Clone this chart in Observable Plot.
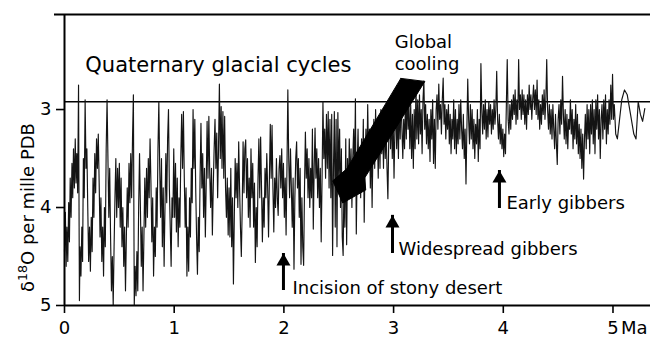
<!DOCTYPE html>
<html>
<head>
<meta charset="utf-8">
<script src="https://cdn.jsdelivr.net/npm/d3@7"></script>
<script src="https://cdn.jsdelivr.net/npm/@observablehq/plot@0.6"></script>
<style>
  html, body { margin: 0; padding: 0; background: white; }
  svg [aria-label$="tick"], svg g.tick line { stroke-width: 1.6; }
</style>
</head>
<body>
<div id="chart"></div>
<script>
// ---- Data: [age (Ma), delta18O (per mille PDB)] ----
const segQuaternaryA = [
[0.000,4.45],[0.008,4.05],[0.015,4.60],[0.022,4.20],[0.030,4.55],[0.038,3.95],[0.045,4.35],[0.052,3.70],[0.060,4.10],[0.068,3.55],
[0.075,3.90],[0.082,3.40],[0.090,3.80],[0.098,3.30],[0.105,3.75],[0.112,3.45],[0.120,3.85],[0.128,2.75],[0.136,4.95],[0.142,4.40],
[0.150,4.70],[0.158,4.20],[0.165,4.55],[0.172,3.50],[0.180,3.90],[0.188,2.90],[0.196,3.60],[0.204,3.40],[0.212,4.00],[0.220,4.55],
[0.228,4.20],[0.236,4.65],[0.244,4.10],[0.252,4.45],[0.260,3.70],[0.268,4.10],[0.276,3.45],[0.284,3.85],[0.292,3.30],[0.300,3.60],
[0.308,3.25],[0.316,3.75],[0.324,4.30],[0.332,3.90],[0.340,4.55],[0.348,4.20],[0.356,4.70],[0.364,4.00],[0.372,4.40],[0.380,3.40],
[0.388,2.90],[0.396,3.50],[0.404,4.10],[0.412,3.60],[0.420,4.30],[0.428,4.85],[0.436,4.50],[0.444,5.00],[0.452,4.40],[0.460,3.90],
[0.468,3.50],[0.476,4.10],[0.484,3.60],[0.492,4.00],[0.500,3.55],[0.508,4.20],[0.516,3.70],[0.524,4.40],[0.532,4.00],[0.540,4.60],
[0.548,4.20],[0.556,4.85],[0.564,4.30],[0.572,3.80],[0.580,4.20],[0.588,3.55],[0.596,3.95],[0.604,3.45],[0.612,3.90],[0.620,3.30],
[0.628,2.85],[0.636,5.00],[0.644,4.60],[0.652,4.90],[0.660,4.45],[0.668,4.85],[0.676,4.00],[0.684,3.45],[0.692,4.00],[0.700,4.60],
[0.708,4.20],[0.716,4.85],[0.724,4.30],[0.732,3.70],[0.740,4.20],[0.748,3.60],[0.756,4.10],[0.764,3.50],[0.772,3.90],[0.780,3.30],
[0.788,3.75],[0.796,4.35],[0.804,3.90],[0.812,4.70],[0.820,4.20],[0.828,4.50],[0.836,3.80],[0.844,4.20],[0.852,3.40],[0.860,2.92],
[0.868,3.60],[0.876,4.10],[0.884,3.50],[0.892,4.40],[0.900,3.80],[0.908,4.60],[0.916,4.00],[0.924,3.45],[0.932,3.95],[0.940,3.30],
[0.948,3.00],[0.956,3.80],[0.964,4.20],[0.972,4.60],[0.980,3.90],[0.988,4.10],[0.996,3.40]
];
const segQuaternaryB = [
[1.004,4.10],[1.012,3.55],[1.020,4.25],[1.028,3.70],[1.036,4.40],[1.044,3.90],[1.052,4.20],[1.060,3.50],[1.068,3.05],[1.076,3.60],
[1.084,3.02],[1.092,3.70],[1.100,4.20],[1.108,3.80],[1.116,4.70],[1.124,4.20],[1.132,4.65],[1.140,3.90],[1.148,4.30],[1.156,3.60],
[1.164,3.95],[1.172,3.00],[1.180,3.60],[1.188,3.10],[1.196,3.80],[1.204,4.30],[1.212,4.68],[1.220,4.10],[1.228,4.45],[1.236,3.70],
[1.244,3.14],[1.252,3.80],[1.260,3.45],[1.268,4.10],[1.276,3.60],[1.284,4.30],[1.292,3.75],[1.300,3.12],[1.308,3.70],[1.316,3.07],
[1.324,3.65],[1.332,4.00],[1.340,3.60],[1.348,4.28],[1.356,3.80],[1.364,3.40],[1.372,3.10],[1.380,3.60],[1.388,3.24],[1.396,3.90],
[1.404,3.40],[1.412,2.74],[1.420,3.50],[1.428,2.97],[1.436,3.60],[1.444,3.02],[1.452,3.70],[1.460,3.07],[1.468,3.80],[1.476,4.10],
[1.484,3.70],[1.492,4.28],[1.500,3.80],[1.508,4.30],[1.516,3.60],[1.524,4.40],[1.532,3.90],[1.540,4.78],[1.548,4.10],[1.556,3.50],
[1.564,3.90],[1.572,3.55],[1.580,4.00],[1.588,3.33],[1.596,3.80],[1.604,4.20],[1.612,4.50],[1.620,4.00],[1.628,3.33],[1.636,3.85],
[1.644,3.40],[1.652,3.31],[1.660,3.90],[1.668,3.50],[1.676,4.10],[1.684,3.70],[1.692,4.20],[1.700,3.40],[1.708,3.90],[1.716,3.55],
[1.724,4.20],[1.732,3.75],[1.740,4.56],[1.748,4.00],[1.756,4.40],[1.764,3.70],[1.772,3.30],[1.780,3.90],[1.788,3.28],[1.796,3.80],
[1.804,4.35],[1.812,3.90],[1.820,4.20],[1.828,3.60],[1.836,3.90],[1.844,3.45],[1.852,3.80],[1.860,4.30],[1.868,3.70],[1.876,3.15],
[1.884,3.70],[1.892,3.16],[1.900,3.80],[1.908,4.25],[1.916,3.70],[1.924,4.00],[1.932,3.50],[1.940,3.90],[1.948,4.08],[1.956,3.60],
[1.964,3.47],[1.972,3.80],[1.980,3.40],[1.988,3.90],[1.996,3.55],[2.004,4.10],[2.012,3.70],[2.020,4.28],[2.028,3.60],[2.036,2.80],
[2.044,3.50],[2.052,3.90],[2.060,3.40],[2.068,3.80],[2.076,4.20],[2.084,3.70],[2.092,4.63],[2.100,3.90],[2.108,3.50],[2.116,3.33],
[2.124,3.80],[2.132,3.50],[2.140,4.10],[2.148,3.60],[2.156,4.58],[2.164,3.90],[2.172,4.40],[2.180,4.59],[2.188,3.80],[2.196,3.23],
[2.204,3.70],[2.212,3.40],[2.220,3.90],[2.228,3.50],[2.236,4.00],[2.244,3.60],[2.252,3.90],[2.260,3.20],[2.268,4.22],[2.276,3.60],
[2.284,3.19],[2.292,3.70],[2.300,3.40],[2.308,3.90],[2.316,3.50],[2.324,4.00],[2.332,3.60],[2.340,4.35],[2.348,3.70],[2.356,2.92],
[2.364,3.50],[2.372,3.20],[2.380,3.70],[2.388,3.05],[2.396,3.60],[2.404,3.02],[2.412,3.80],[2.420,3.10],[2.428,3.90],[2.436,3.05],
[2.444,4.49],[2.452,3.60],[2.460,3.02],[2.468,4.20],[2.476,3.10],[2.484,4.40],[2.492,3.03],[2.500,3.70],[2.508,3.20],[2.516,4.00],
[2.524,3.40],[2.532,4.30],[2.540,4.49],[2.548,3.70],[2.556,4.20],[2.564,3.30],[2.572,4.38],[2.580,3.50],[2.588,3.90],[2.596,3.30]
];
const segPlioceneA = [
[2.604,3.80],[2.612,3.40],[2.620,4.00],[2.628,3.50],[2.636,3.20],[2.644,3.70],[2.652,2.89],[2.660,4.27],[2.668,3.60],[2.676,3.20],
[2.684,3.80],[2.692,3.40],[2.700,3.90],[2.708,3.30],[2.716,3.70],[2.724,3.10],[2.732,4.15],[2.740,3.50],[2.748,3.20],[2.756,3.60],
[2.764,2.95],[2.772,3.50],[2.780,3.20],[2.788,3.80],[2.796,3.30],[2.804,4.00],[2.812,3.40],[2.820,3.10],[2.828,3.60],[2.836,3.00],
[2.844,3.50],[2.852,3.20],[2.860,3.70],[2.868,3.10],[2.876,3.60],[2.884,3.00],[2.892,3.45],[2.900,3.10],[2.908,3.60],[2.916,3.05],
[2.924,3.50],[2.932,3.20],[2.940,3.60],[2.948,3.91],[2.956,3.30],[2.964,2.95],[2.972,3.40],[2.980,3.00],[2.988,3.50],[2.996,3.10],
[3.004,3.70],[3.012,3.20],[3.020,2.95],[3.028,3.40],[3.036,3.00],[3.044,3.50],[3.052,2.90],[3.060,3.30],[3.068,2.85],[3.076,3.20],
[3.084,3.50],[3.092,3.10],[3.100,3.40],[3.108,2.90],[3.116,3.30],[3.124,2.80],[3.132,3.20],[3.140,2.95],[3.148,3.40]
];
const segPlioceneB = [
[3.156,2.95],[3.164,3.50],[3.172,3.05],[3.180,3.60],[3.188,3.00],[3.196,3.40],[3.204,2.75],[3.212,3.30],[3.220,2.90],[3.228,3.35],
[3.236,2.85],[3.244,3.25],[3.252,3.00],[3.260,3.45],[3.268,2.90],[3.276,2.71],[3.284,3.20],[3.292,2.95],[3.300,3.35],[3.308,3.05],
[3.316,3.40],[3.324,3.10],[3.332,3.53],[3.340,3.00],[3.348,3.30],[3.356,2.90],[3.364,3.55],[3.372,3.10],[3.380,3.60],[3.388,3.00],
[3.396,2.85],[3.404,3.20],[3.412,2.74],[3.420,3.10],[3.428,2.95],[3.436,3.25],[3.444,2.90],[3.452,2.68],[3.460,3.15],[3.468,2.95],
[3.476,3.30],[3.484,3.00],[3.492,3.20],[3.500,2.95],[3.508,3.35],[3.516,3.05],[3.524,3.45],[3.532,3.10],[3.540,3.30],[3.548,2.90],
[3.556,3.40],[3.564,3.00],[3.572,3.45],[3.580,3.10],[3.588,3.35],[3.596,2.95],[3.604,3.30],[3.612,2.90],[3.620,3.20],[3.628,3.40],
[3.636,3.05],[3.644,3.50],[3.652,3.20],[3.660,3.76],[3.668,3.20],[3.676,2.69],[3.684,3.10],[3.692,3.35],[3.700,2.95],[3.708,3.30],
[3.716,3.00],[3.724,3.40],[3.732,3.10],[3.740,3.50],[3.748,3.15],[3.756,3.35],[3.764,3.00],[3.772,3.53],[3.780,3.10],[3.788,3.40],
[3.796,2.53],[3.804,3.00],[3.812,3.25],[3.820,2.95],[3.828,3.20],[3.836,2.90],[3.844,3.30],[3.852,3.00],[3.860,3.28],[3.868,2.92],
[3.876,3.15],[3.884,2.95],[3.892,3.25],[3.900,3.00],[3.908,3.20],[3.916,2.90],[3.924,3.15],[3.932,3.00],[3.940,2.61],[3.948,3.10],
[3.956,3.30],[3.964,3.05],[3.972,3.35],[3.980,3.15],[3.988,3.40],[3.996,3.20],[4.004,3.48],[4.012,3.25],[4.020,3.45],[4.028,2.95],
[4.036,2.49],[4.044,3.10],[4.052,3.25],[4.060,2.95],[4.068,3.20],[4.076,2.90],[4.084,3.10],[4.092,2.85],[4.100,3.05],[4.108,2.80],
[4.116,3.15],[4.124,2.90],[4.132,3.10],[4.140,2.49],[4.148,3.00],[4.156,2.85],[4.164,3.10],[4.172,2.80],[4.180,3.05],[4.188,2.85],
[4.196,3.15],[4.204,2.90],[4.212,3.20],[4.220,2.85],[4.228,3.05],[4.236,2.75],[4.244,3.00],[4.252,2.85],[4.260,3.10],[4.268,2.90],
[4.276,2.75],[4.284,3.00],[4.292,2.80],[4.300,3.05],[4.308,2.70],[4.316,3.10],[4.324,2.90],[4.332,3.20],[4.340,2.95],[4.348,3.15],
[4.356,2.85],[4.364,3.05],[4.372,2.80],[4.380,3.10],[4.388,2.90],[4.396,2.49],[4.404,3.00],[4.412,3.20],[4.420,2.95],[4.428,3.25],
[4.436,3.00],[4.444,3.30],[4.452,2.95],[4.460,3.20],[4.468,3.40],[4.476,3.05],[4.484,3.35],[4.492,3.56]
];
const segPlioceneC = [
[4.500,3.10],[4.508,2.95],[4.516,3.25],[4.524,2.90],[4.532,3.15],[4.540,2.66],[4.548,3.05],[4.556,3.30],[4.564,3.00],[4.572,3.35],
[4.580,3.05],[4.588,3.40],[4.596,3.10],[4.604,3.20],[4.612,2.90],[4.620,3.25],[4.628,3.00],[4.636,3.40],[4.644,3.10],[4.652,3.30],
[4.660,2.95],[4.668,3.35],[4.676,3.05],[4.684,3.45],[4.692,3.15],[4.700,3.50],[4.708,3.20],[4.716,3.60],[4.724,3.25],[4.732,3.71],
[4.740,3.30],[4.748,3.05],[4.756,3.40],[4.764,2.95],[4.772,3.30],[4.780,3.00],[4.788,3.45],[4.796,2.95],[4.804,3.25],[4.812,2.90],
[4.820,3.35],[4.828,3.00],[4.836,3.45],[4.844,2.90],[4.852,3.20],[4.860,2.85],[4.868,3.30],[4.876,3.00],[4.884,3.50],[4.892,3.10],
[4.900,2.95],[4.908,3.30],[4.916,2.90],[4.924,3.20],[4.932,2.85],[4.940,3.35],[4.948,3.00],[4.956,3.25],[4.964,2.90],[4.972,3.15],
[4.980,2.75],[4.988,3.10],[4.996,2.64],[5.004,3.10],[5.012,2.95],[5.025,3.25],[5.040,3.30],[5.060,3.10],[5.080,2.90],[5.105,2.80],
[5.130,2.85],[5.160,3.05],[5.190,3.25],[5.210,3.30],[5.230,2.92],[5.250,3.05],[5.270,3.12],[5.290,2.99]
];

// ---- Axes / reference ----
const xTicks = [0, 1, 2, 3, 4, 5];
const yTicks = [3, 4, 5];
const xDomain = [0, 5.342];
const yDomain = [2.03, 5];
const referenceLevel = [2.92];

// ---- Annotations (data coordinates) ----
const titleNote = [{x: 0.19, y: 2.62, text: "Quaternary glacial cycles"}];
const notes = [
  {x: 3.01, y: 2.367, text: "Global"},
  {x: 3.01, y: 2.60, text: "cooling"},
  {x: 2.078, y: 4.878, text: "Incision of stony desert"},
  {x: 3.045, y: 4.48, text: "Widespread gibbers"},
  {x: 4.029, y: 4.01, text: "Early gibbers"}
];
const eventArrows = [
  {x: 1.996, tip: 4.469, tail: 4.847},
  {x: 2.99, tip: 4.08, tail: 4.469},
  {x: 3.965, tip: 3.622, tail: 4.01}
];
const coolingArrow = [
  {x: 3.066, y: 2.682}, {x: 3.285, y: 2.713}, {x: 2.737, y: 3.697}, {x: 2.746, y: 3.821},
  {x: 2.536, y: 3.954}, {x: 2.445, y: 3.728}, {x: 2.573, y: 3.605}, {x: 3.066, y: 2.682}
];
const yLabel = [{y: 4.0, text: "δ18O per mille PDB"}];
const unitLabel = [{x: 5, text: "Ma"}];

const record = [...segQuaternaryA, ...segQuaternaryB, ...segPlioceneA, ...segPlioceneB, ...segPlioceneC]
  .map(([age, d18o]) => ({age, d18o}));

const chart = Plot.plot({
  width: 650,
  height: 337,
  marginLeft: 64,
  marginRight: 0,
  marginTop: 14,
  marginBottom: 32,
  style: {fontFamily: "DejaVu Sans", fontSize: "18px", background: "white", color: "black"},
  x: {domain: xDomain, ticks: xTicks, tickSize: 8, tickPadding: 8, label: null, tickFormat: d => String(d)},
  y: {domain: yDomain, reverse: true, ticks: yTicks, tickSize: 8, tickPadding: 5, label: null, tickFormat: d => String(d)},
  marks: [
    Plot.ruleY(referenceLevel, {stroke: "black", strokeWidth: 1.4}),
    Plot.line(record, {x: "age", y: "d18o", stroke: "#141414", strokeWidth: 1.15}),
    Plot.line(coolingArrow, {x: "x", y: "y", fill: "black", stroke: "black", strokeWidth: 1}),
    Plot.ruleY([yDomain[0]], {stroke: "black", strokeWidth: 2, insetLeft: -10}),
    Plot.ruleY([yDomain[1]], {stroke: "black", strokeWidth: 2}),
    Plot.ruleX([xDomain[0]], {stroke: "black", strokeWidth: 2}),
    Plot.ruleX(eventArrows, {x: "x", y1: "tail", y2: "tip", stroke: "black", strokeWidth: 3}),
    Plot.dot(eventArrows, {x: "x", y: "tip", symbol: "triangle", r: 5.2, fill: "black", stroke: "none", dy: 8}),
    Plot.text(titleNote, {x: "x", y: "y", text: "text", textAnchor: "start", lineAnchor: "bottom", fontSize: 21, fill: "black"}),
    Plot.text(notes, {x: "x", y: "y", text: "text", textAnchor: "start", lineAnchor: "bottom", fontSize: 18, fill: "black"}),
    Plot.text(unitLabel, {x: "x", text: "text", frameAnchor: "bottom", textAnchor: "start", lineAnchor: "top", dx: 8, dy: 16, fontSize: 18, fill: "black"}),
    Plot.text(yLabel, {y: "y", text: "text", frameAnchor: "left", rotate: -90, textAnchor: "middle", lineAnchor: "bottom", dx: -31, fontSize: 18, fill: "black"})
  ]
});

document.getElementById("chart").appendChild(chart);

// superscript "18" in the y-axis title
d3.select(chart).selectAll("text").each(function() {
  if (this.textContent === "δ18O per mille PDB") {
    this.textContent = "";
    const t = d3.select(this);
    t.append("tspan").text("δ");
    t.append("tspan").attr("baseline-shift", "super").attr("font-size", "70%").text("18");
    t.append("tspan").text("O per mille PDB");
  }
});
</script>
</body>
</html>
